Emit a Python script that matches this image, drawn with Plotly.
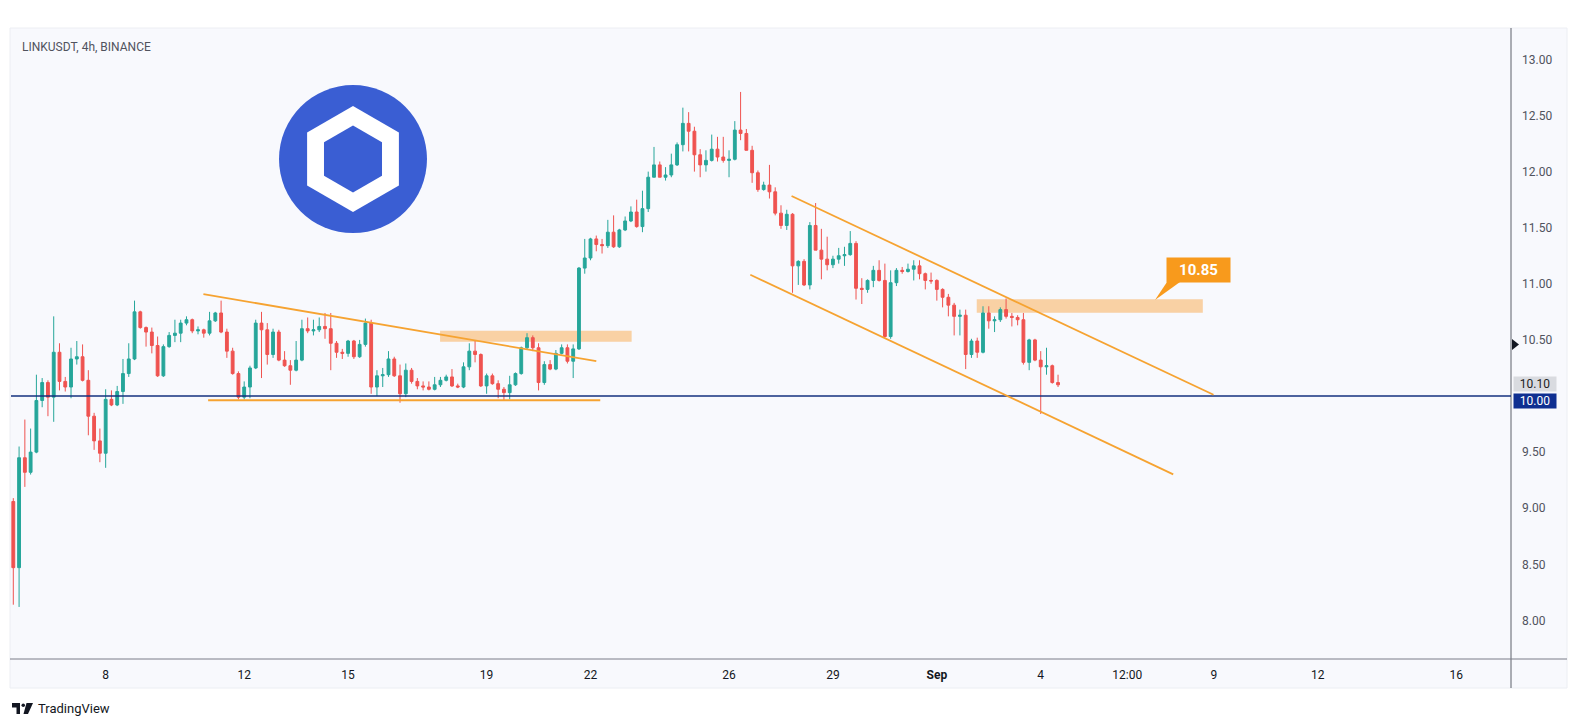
import math
import pandas as pd
import plotly.graph_objects as go

# ---------------- data ----------------
symbol_title = "LINKUSDT, 4h, BINANCE"
first_bar = "2024-08-05 08:00"
bar_freq = "4h"

opens = [9.06, 8.47, 9.45, 9.32, 9.50, 9.96, 10.12, 9.99, 10.39, 10.13,
         10.08, 10.33, 10.35, 10.14, 9.82, 9.60, 9.49, 9.97, 9.92, 10.04,
         10.20, 10.33, 10.75, 10.61, 10.57, 10.45, 10.18, 10.44, 10.54, 10.56,
         10.65, 10.68, 10.58, 10.59, 10.56, 10.67, 10.74, 10.57, 10.40, 10.20,
         9.99, 10.08, 10.25, 10.65, 10.59, 10.37, 10.57, 10.32, 10.27, 10.23,
         10.32, 10.60, 10.58, 10.59, 10.62, 10.60, 10.47, 10.39, 10.38, 10.49,
         10.35, 10.46, 10.65, 10.08, 10.18, 10.19, 10.33, 10.18, 10.02, 10.23,
         10.13, 10.09, 10.08, 10.06, 10.10, 10.14, 10.17, 10.09, 10.08, 10.26,
         10.40, 10.37, 10.09, 10.18, 10.11, 10.06, 10.03, 10.10, 10.20, 10.43,
         10.52, 10.43, 10.12, 10.28, 10.24, 10.38, 10.43, 10.31, 10.42, 11.14,
         11.23, 11.40, 11.35, 11.34, 11.46, 11.33, 11.48, 11.56, 11.64, 11.51,
         11.67, 11.95, 12.06, 11.95, 11.97, 12.06, 12.24, 12.43, 12.36, 12.15,
         12.06, 12.10, 12.20, 12.13, 12.10, 12.11, 12.37, 12.34, 12.19, 11.99,
         11.84, 11.88, 11.82, 11.63, 11.52, 11.62, 11.16, 11.20, 10.99, 11.52,
         11.30, 11.22, 11.17, 11.22, 11.25, 11.26, 11.36, 10.96, 10.95, 11.03,
         11.12, 11.03, 10.53, 11.01, 11.12, 11.11, 11.13, 11.16, 11.09, 11.03,
         11.03, 10.95, 10.88, 10.81, 10.71, 10.72, 10.37, 10.49, 10.39, 10.74,
         10.67, 10.68, 10.77, 10.71, 10.70, 10.68, 10.30, 10.50, 10.32, 10.26,
         10.27, 10.12]
highs = [9.09, 9.55, 9.79, 9.71, 10.19, 10.16, 10.14, 10.71, 10.47, 10.17,
         10.43, 10.49, 10.46, 10.23, 9.85, 9.71, 10.06, 10.05, 10.09, 10.33,
         10.47, 10.85, 10.76, 10.62, 10.61, 10.53, 10.46, 10.57, 10.68, 10.68,
         10.71, 10.69, 10.62, 10.60, 10.75, 10.75, 10.85, 10.60, 10.43, 10.22,
         10.13, 10.27, 10.68, 10.75, 10.65, 10.60, 10.59, 10.40, 10.32, 10.49,
         10.68, 10.70, 10.68, 10.70, 10.74, 10.74, 10.49, 10.42, 10.50, 10.50,
         10.50, 10.69, 10.68, 10.23, 10.25, 10.40, 10.35, 10.28, 10.29, 10.25,
         10.16, 10.13, 10.13, 10.17, 10.17, 10.19, 10.24, 10.11, 10.30, 10.47,
         10.49, 10.38, 10.20, 10.20, 10.14, 10.08, 10.18, 10.21, 10.44, 10.56,
         10.54, 10.47, 10.31, 10.32, 10.41, 10.46, 10.46, 10.46, 11.15, 11.40,
         11.41, 11.43, 11.40, 11.57, 11.61, 11.49, 11.60, 11.69, 11.75, 11.83,
         12.00, 12.22, 12.09, 12.04, 12.16, 12.26, 12.57, 12.53, 12.40, 12.20,
         12.19, 12.33, 12.31, 12.31, 12.19, 12.45, 12.71, 12.38, 12.23, 12.01,
         11.91, 12.06, 11.86, 11.70, 11.66, 11.63, 11.21, 11.22, 11.55, 11.72,
         11.49, 11.42, 11.25, 11.32, 11.33, 11.47, 11.38, 11.05, 11.04, 11.16,
         11.21, 11.18, 11.12, 11.14, 11.15, 11.18, 11.21, 11.21, 11.10, 11.10,
         11.04, 10.96, 10.91, 10.83, 10.77, 10.77, 10.51, 10.52, 10.80, 10.80,
         10.71, 10.79, 10.87, 10.74, 10.72, 10.74, 10.51, 10.51, 10.40, 10.43,
         10.28, 10.19]
lows = [8.14, 8.12, 9.19, 9.30, 9.49, 9.90, 9.82, 9.77, 10.05, 10.04,
        9.98, 10.28, 10.13, 9.65, 9.52, 9.41, 9.36, 9.91, 9.91, 9.93,
        10.17, 10.32, 10.60, 10.44, 10.38, 10.17, 10.17, 10.43, 10.48, 10.48,
        10.63, 10.56, 10.55, 10.52, 10.54, 10.66, 10.56, 10.34, 10.19, 9.97,
        9.97, 9.98, 10.24, 10.16, 10.28, 10.34, 10.31, 10.26, 10.10, 10.22,
        10.31, 10.56, 10.54, 10.57, 10.51, 10.23, 10.34, 10.33, 10.35, 10.33,
        10.34, 10.44, 10.02, 10.00, 10.08, 10.17, 10.17, 9.94, 9.99, 10.11,
        10.06, 10.05, 10.05, 10.05, 10.08, 10.13, 10.08, 10.07, 10.07, 10.23,
        10.30, 10.08, 10.02, 10.10, 9.98, 9.96, 9.97, 10.09, 10.19, 10.41,
        10.40, 10.05, 10.10, 10.23, 10.23, 10.37, 10.29, 10.16, 10.41, 11.09,
        11.21, 11.29, 11.27, 11.32, 11.32, 11.32, 11.47, 11.55, 11.50, 11.46,
        11.64, 11.95, 11.95, 11.92, 11.95, 12.05, 12.18, 12.18, 12.00, 11.95,
        12.00, 12.09, 12.09, 12.08, 11.95, 12.10, 12.28, 12.19, 11.90, 11.82,
        11.83, 11.76, 11.61, 11.49, 11.48, 10.92, 10.99, 10.98, 10.95, 11.30,
        11.04, 11.12, 11.14, 11.18, 11.16, 11.25, 10.86, 10.82, 10.92, 10.97,
        11.02, 10.52, 10.51, 10.98, 11.09, 11.10, 11.03, 11.04, 10.95, 11.00,
        10.85, 10.79, 10.71, 10.54, 10.54, 10.24, 10.34, 10.34, 10.38, 10.60,
        10.57, 10.66, 10.69, 10.62, 10.63, 10.28, 10.23, 10.31, 9.84, 10.19,
        10.11, 10.08]
closes = [8.47, 9.45, 9.32, 9.50, 9.96, 10.12, 9.99, 10.39, 10.13, 10.08,
          10.33, 10.35, 10.14, 9.82, 9.60, 9.49, 9.97, 9.92, 10.04, 10.20,
          10.33, 10.75, 10.61, 10.57, 10.45, 10.18, 10.44, 10.54, 10.56, 10.65,
          10.68, 10.58, 10.59, 10.56, 10.67, 10.74, 10.57, 10.40, 10.20, 9.99,
          10.08, 10.25, 10.65, 10.59, 10.37, 10.57, 10.32, 10.27, 10.23, 10.32,
          10.60, 10.58, 10.59, 10.62, 10.60, 10.47, 10.39, 10.38, 10.49, 10.35,
          10.46, 10.65, 10.08, 10.18, 10.19, 10.33, 10.18, 10.02, 10.23, 10.13,
          10.09, 10.08, 10.06, 10.10, 10.14, 10.17, 10.09, 10.08, 10.26, 10.40,
          10.37, 10.09, 10.18, 10.11, 10.06, 10.03, 10.10, 10.20, 10.43, 10.52,
          10.43, 10.12, 10.28, 10.24, 10.38, 10.43, 10.31, 10.42, 11.14, 11.23,
          11.40, 11.35, 11.34, 11.46, 11.33, 11.48, 11.56, 11.64, 11.51, 11.67,
          11.95, 12.06, 11.95, 11.97, 12.06, 12.24, 12.43, 12.36, 12.15, 12.06,
          12.10, 12.20, 12.13, 12.10, 12.11, 12.37, 12.34, 12.19, 11.99, 11.84,
          11.88, 11.82, 11.63, 11.52, 11.62, 11.16, 11.20, 10.99, 11.52, 11.30,
          11.22, 11.17, 11.22, 11.25, 11.26, 11.36, 10.96, 10.95, 11.03, 11.12,
          11.03, 10.53, 11.01, 11.12, 11.11, 11.13, 11.16, 11.09, 11.03, 11.025,
          10.95, 10.88, 10.81, 10.71, 10.72, 10.37, 10.49, 10.39, 10.74, 10.67,
          10.68, 10.77, 10.71, 10.70, 10.68, 10.30, 10.50, 10.32, 10.26, 10.27,
          10.12, 10.10]

support_level = 10.00
callout_level = "10.85"
last_price_label = "10.10"

# drawings (time, price)
line_starts_t = ["2024-08-10 19:45", "2024-08-10 23:00", "2024-08-27 19:20", "2024-08-26 14:45"]
line_starts_p = [10.908, 9.962, 11.783, 11.081]
line_ends_t = ["2024-08-22 04:00", "2024-08-22 06:45", "2024-09-08 23:45", "2024-09-07 19:50"]
line_ends_p = [10.311, 9.962, 10.011, 9.302]

zone_t0 = ["2024-08-17 15:45", "2024-09-02 03:40"]
zone_t1 = ["2024-08-23 04:30", "2024-09-08 16:20"]
zone_p0 = [10.484, 10.742]
zone_p1 = [10.582, 10.862]

x_tickvals = ["2024-08-08", "2024-08-12", "2024-08-15", "2024-08-19", "2024-08-22",
              "2024-08-26", "2024-08-29", "2024-09-01", "2024-09-04", "2024-09-06 12:00",
              "2024-09-09", "2024-09-12", "2024-09-16"]
x_ticktext = ["8", "12", "15", "19", "22", "26", "29", "<b>Sep</b>", "4", "12:00", "9", "12", "16"]
y_tickvals = [8.0, 8.5, 9.0, 9.5, 10.5, 11.0, 11.5, 12.0, 12.5, 13.0]

# ---------------- figure ----------------
# the page body adds an 8px margin, so the figure is shrunk by that offset
OFF = 8
W, H = 1579 - OFF, 727 - OFF
PL, PR, PT, PB = 11, 1511, 28, 659       # plot area in window pixels
FONT = "Roboto"
UP, DOWN = "#26a69a", "#ef5350"
ORANGE = "#f6a331"


def px(X):
    return (X - PL) / (PR - PL)


def py(Y):
    return (PB - Y) / (PB - PT)


times = pd.date_range(first_bar, periods=len(opens), freq=bar_freq)

fig = go.Figure()
fig.add_trace(go.Candlestick(
    x=times, open=opens, high=highs, low=lows, close=closes,
    increasing=dict(line=dict(color=UP, width=1), fillcolor=UP),
    decreasing=dict(line=dict(color=DOWN, width=1), fillcolor=DOWN),
    whiskerwidth=0, showlegend=False, hoverinfo="skip",
))

shapes = []
# panel background
shapes.append(dict(type="rect", xref="paper", yref="paper", x0=px(10), x1=px(1567),
                   y0=py(688), y1=py(28), fillcolor="#f8f9fd",
                   line=dict(color="#eceef3", width=1), layer="below"))
# axis lines
shapes.append(dict(type="line", xref="paper", yref="paper", x0=px(PR), x1=px(PR),
                   y0=py(688), y1=py(28), line=dict(color="#5d606b", width=1)))
shapes.append(dict(type="line", xref="paper", yref="paper", x0=px(10), x1=px(1567),
                   y0=0, y1=0, line=dict(color="#7a7d88", width=1)))

# zones
for t0, t1, p0, p1 in zip(zone_t0, zone_t1, zone_p0, zone_p1):
    shapes.append(dict(type="rect", xref="x", yref="y", x0=t0, x1=t1, y0=p0, y1=p1,
                       fillcolor="rgba(249,170,75,0.5)", line=dict(width=0), layer="below"))

# support line
shapes.append(dict(type="line", xref="paper", yref="y", x0=0, x1=1,
                   y0=support_level, y1=support_level,
                   line=dict(color="#14307e", width=1.5)))

# trend lines
for t0, p0, t1, p1 in zip(line_starts_t, line_starts_p, line_ends_t, line_ends_p):
    shapes.append(dict(type="line", xref="x", yref="y", x0=t0, y0=p0, x1=t1, y1=p1,
                       line=dict(color=ORANGE, width=1.8)))

# Chainlink logo
cx, cy, r = 353, 159.1, 74
shapes.append(dict(type="circle", xref="paper", yref="paper",
                   x0=px(cx - r), x1=px(cx + r), y0=py(cy + r), y1=py(cy - r),
                   fillcolor="#3a5ed3", line=dict(width=0)))


def hex_path(R):
    pts = []
    for k in range(6):
        a = math.radians(90 + 60 * k)
        pts.append((px(cx + R * math.cos(a)), py(cy - R * math.sin(a))))
    return "M " + " L ".join(f"{x:.5f},{y:.5f}" for x, y in pts) + " Z"


shapes.append(dict(type="path", xref="paper", yref="paper", path=hex_path(53),
                   fillcolor="white", line=dict(width=0)))
shapes.append(dict(type="path", xref="paper", yref="paper", path=hex_path(33.5),
                   fillcolor="#3a5ed3", line=dict(width=0)))

# callout wedge
wedge = [(1167, 282), (1155, 300), (1180, 282)]
shapes.append(dict(type="path", xref="paper", yref="paper",
                   path="M " + " L ".join(f"{px(a):.5f},{py(b):.5f}" for a, b in wedge) + " Z",
                   fillcolor="#f89a1c", line=dict(width=0)))

# axis marker triangle
tri = [(1512, 339), (1519, 344.5), (1512, 350)]
shapes.append(dict(type="path", xref="paper", yref="paper",
                   path="M " + " L ".join(f"{px(a):.5f},{py(b):.5f}" for a, b in tri) + " Z",
                   fillcolor="#131722", line=dict(width=0)))

# TradingView mark
shapes.append(dict(type="rect", xref="paper", yref="paper", x0=px(12), x1=px(20),
                   y0=py(707.5), y1=py(703), fillcolor="#131722", line=dict(width=0)))
shapes.append(dict(type="rect", xref="paper", yref="paper", x0=px(16.5), x1=px(20),
                   y0=py(714), y1=py(703), fillcolor="#131722", line=dict(width=0)))
shapes.append(dict(type="circle", xref="paper", yref="paper", x0=px(21.5), x1=px(25),
                   y0=py(707), y1=py(703.5), fillcolor="#131722", line=dict(width=0)))
vshape = [(26.5, 703), (33, 703), (28, 714), (23.5, 714)]
shapes.append(dict(type="path", xref="paper", yref="paper",
                   path="M " + " L ".join(f"{px(a):.5f},{py(b):.5f}" for a, b in vshape) + " Z",
                   fillcolor="#131722", line=dict(width=0)))

annotations = [
    dict(xref="paper", yref="paper", x=px(20), y=py(46.5), xanchor="left", yanchor="middle",
         text=symbol_title, showarrow=False, font=dict(family=FONT, size=12, color="#50535e")),
    dict(xref="paper", yref="paper", x=px(1535), y=py(383.5), xanchor="center", yanchor="middle",
         text=last_price_label, showarrow=False, bgcolor="#d9dbe0", width=42, height=14,
         borderpad=0, font=dict(family=FONT, size=12, color="#222222")),
    dict(xref="paper", yref="paper", x=px(1535), y=py(401), xanchor="center", yanchor="middle",
         text=f"{support_level:.2f}", showarrow=False, bgcolor="#0f2f91", width=42, height=14,
         borderpad=0, font=dict(family=FONT, size=12, color="white")),
    dict(xref="paper", yref="paper", x=px(1198.5), y=py(270.3), xanchor="center", yanchor="middle",
         text=f"<b>{callout_level}</b>", showarrow=False, bgcolor="#f89a1c", width=63, height=24,
         borderpad=0, font=dict(family=FONT, size=15, color="white")),
    dict(xref="paper", yref="paper", x=px(36), y=py(708.5), xanchor="left", yanchor="middle",
         text="TradingView", showarrow=False, font=dict(family=FONT, size=13, color="#131722")),
]

fig.update_layout(
    width=W, height=H,
    margin=dict(l=PL - OFF, r=(W + OFF) - PR, t=PT - OFF, b=(H + OFF) - PB, pad=0),
    paper_bgcolor="white", plot_bgcolor="rgba(0,0,0,0)",
    showlegend=False, shapes=shapes, annotations=annotations,
    xaxis=dict(type="date", range=["2024-08-05 06:24", "2024-09-17 13:54"],
               rangeslider=dict(visible=False), showgrid=False, zeroline=False,
               showline=False, ticks="", tickvals=x_tickvals, ticktext=x_ticktext,
               tickfont=dict(family=FONT, size=12, color="#131722"),
               ticklabelstandoff=7),
    yaxis=dict(side="right", range=[7.656, 13.280], showgrid=False, zeroline=False,
               showline=False, ticks="", tickvals=y_tickvals,
               ticktext=[f"{v:.2f}" for v in y_tickvals],
               tickfont=dict(family=FONT, size=12, color="#50535e"),
               ticklabelstandoff=10),
)

fig.write_html("out.html")
